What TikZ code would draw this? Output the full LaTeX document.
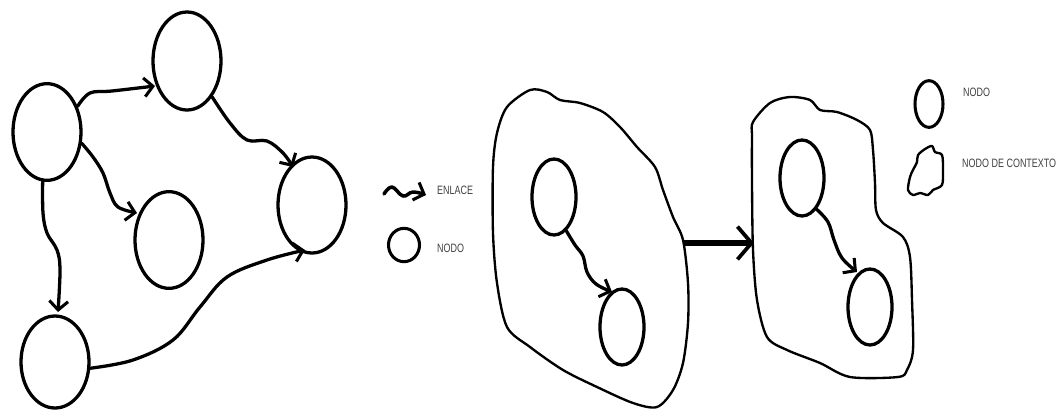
\documentclass[tikz,border=0pt]{standalone}
\usepackage{fontspec}
\setmainfont{Liberation Sans}
\usetikzlibrary{shapes.geometric,arrows.meta}
\tikzset{
  nd/.style={draw, ellipse, line width=2.8pt, inner sep=0pt},
  bignd/.style={nd, minimum width=2.04cm, minimum height=2.9cm},
  smallnd/.style={nd, minimum width=1.32cm, minimum height=2.28cm},
  edge/.style={line width=2.8pt, line cap=round, line join=round, -{Straight Barb[length=7.5pt,width=16pt,line width=2.6pt]}},
  blob/.style={line width=2pt, line join=round},
  lbl/.style={anchor=west, inner sep=0pt, font=\fontsize{9}{10}\selectfont, text=black!75},
}
\newcommand{\lbltext}[1]{\scalebox{0.85}[1.15]{#1}}
\begin{document}
\begin{tikzpicture}[x=0.03cm, y=-0.03cm]
\useasboundingbox (0,0) rectangle (1061,410);
% left graph
\node[bignd] (A) at (47,132) {};
\node[bignd, minimum height=2.94cm] (B) at (187,61) {};
\node[bignd] (C) at (169,240) {};
\node[bignd, minimum height=2.88cm] (D) at (312,205) {};
\node[bignd, minimum height=2.76cm] (E) at (55,362) {};
\draw[edge] plot[smooth, tension=0.6] coordinates {(A.40) (90,93) (112,91) (155,86)};
\draw[edge] plot[smooth, tension=0.6] coordinates {(A.-18) (93,157) (103,173) (110,193) (118,207) (137,213)};
\draw[edge] plot[smooth, tension=0.6] coordinates {(A.-95) (43,213) (47,233) (57,250) (60,270) (58,312)};
\draw[edge] plot[smooth, tension=0.6] coordinates {(B.-55) (230,123) (247,140) (267,141) (283,153) (293,167)};
\draw[edge] plot[smooth, tension=0.6] coordinates {(E.-10) (133,360) (173,340) (200,307) (227,277) (267,260) (305,250)};
% legend 1
\coordinate (l1s) at (384,194);
\coordinate (l1e) at (426,195);
\draw[edge, line width=3pt] plot[smooth, tension=0.7] coordinates {(l1s) (392,187) (403,196) (413,192) (l1e)};
\node[lbl] (t1) at (437,190) {\lbltext{ENLACE}};
\node[nd, line width=2.6pt, minimum width=0.93cm, minimum height=1.0cm] (L1) at (404,245) {};
\node[lbl] (t2) at (437,248) {\lbltext{NODO}};
% context 1
\draw[blob] plot[smooth cycle, tension=0.5] coordinates {
 (530,90) (547,92) (560,100) (580,103) (603,112) (620,127) (637,147) (655,167)
 (663,190) (673,217) (683,240) (688,283) (688,323) (683,363) (673,390) (657,407)
 (633,403) (597,387) (563,370) (530,347) (507,327) (497,283) (493,233) (493,167)
 (497,133) (507,107)};
\node[smallnd] (p1) at (554,197) {};
\node[smallnd] (p2) at (622,327) {};
\draw[edge] plot[smooth, tension=0.6] coordinates {(p1.-70) (575,245) (583,256) (587,272) (596,284) (612,292)};
% big arrow
\coordinate (c1e) at (683,243);
\coordinate (c2w) at (754,243);
\draw[line width=4.5pt, -{Straight Barb[length=12pt,width=28pt,line width=3.2pt]}] (c1e) -- (c2w);
% context 2
\draw[blob] plot[smooth cycle, tension=0.5] coordinates {
 (753,122) (770,103) (790,97) (810,100) (820,110) (837,112) (857,120) (870,130)
 (873,150) (875,183) (876,210) (883,223) (903,237) (910,257) (912,300) (913,350)
 (907,370) (898,377) (850,377) (820,363) (787,350) (767,337) (757,300) (753,250)
 (752,183) (752,137)};
\node[smallnd] (q1) at (802,178) {};
\node[smallnd] (q2) at (870,307) {};
\draw[edge] plot[smooth, tension=0.6] coordinates {(q1.-65) (828,222) (834,240) (842,258) (857,272)};
% legend 2
\node[nd, line width=2.6pt, minimum width=0.84cm, minimum height=1.4cm] (L2) at (929,104) {};
\node[lbl] (t3) at (963,92) {\lbltext{NODO}};
\draw[line width=2pt, line join=round] plot[smooth cycle, tension=0.5] coordinates {
 (925,149) (932,146) (935,152) (942,155) (943,170) (942,185) (933,190) (928,195)
 (920,193) (913,195) (908,190) (910,177) (913,170) (917,162) (918,155)};
\node[lbl] (t4) at (962,163) {\lbltext{NODO DE CONTEXTO}};
\end{tikzpicture}
\end{document}
